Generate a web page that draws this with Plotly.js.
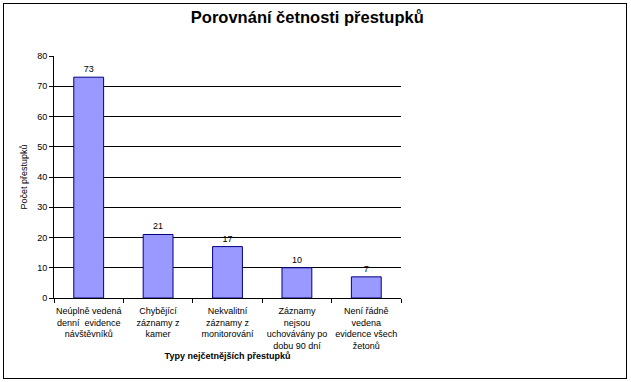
<!DOCTYPE html>
<html><head><meta charset="utf-8">
<script src="https://cdn.plot.ly/plotly-3.0.1.min.js"></script>
<style>
body{margin:0;padding:0;background:#fff;}
#wrap{position:relative;width:631px;height:382px;}
#chart{width:631px;height:382px;}
#frame{position:absolute;left:3px;top:3px;width:622px;height:374px;border:1px solid #000;pointer-events:none;}
</style></head>
<body>
<div id="wrap"><div id="chart"></div><div id="frame"></div></div>
<script>
const categories = [
  "Neúplně vedená<br>denní  evidence<br>návštěvníků",
  "Chybějící<br>záznamy z<br>kamer",
  "Nekvalitní<br>záznamy z<br>monitorování",
  "Záznamy<br>nejsou<br>uchovávány po<br>dobu 90 dní",
  "Není řádně<br>vedena<br>evidence všech<br>žetonů"
];
const values = [73, 21, 17, 10, 7];
const yTicks = [0, 10, 20, 30, 40, 50, 60, 70, 80];

const font = "Liberation Sans, Arial, sans-serif";
const trace = {
  type: "bar",
  x: categories,
  y: values,
  text: values.map(String),
  textposition: "outside",
  textfont: {family: font, size: 9, color: "#000"},
  cliponaxis: false,
  marker: {color: "#9999FF", line: {color: "#000080", width: 1}},
  width: 0.43,
  hoverinfo: "x+y"
};
const layout = {
  width: 631, height: 382,
  margin: {l: 54, r: 230, t: 56, b: 84},
  paper_bgcolor: "#fff", plot_bgcolor: "#fff",
  showlegend: false,
  title: {text: "<b>Porovnání četnosti přestupků</b>", font: {family: font, size: 16.5, color: "#000"},
          x: 0.487, xanchor: "center", y: 0.955, yanchor: "middle"},
  xaxis: {
    type: "category",
    showline: true, linecolor: "#000", linewidth: 1,
    ticks: "outside", tickson: "boundaries", ticklen: 4, tickcolor: "#000",
    tickfont: {family: font, size: 9, color: "#000"},
    ticklabelstandoff: 4,
    tickangle: 0,
    title: {text: "<b>Typy nejčetnějších přestupků</b>", font: {family: font, size: 9, color: "#000"}, standoff: 2},
    showgrid: false, zeroline: false
  },
  yaxis: {
    range: [0, 80],
    tickvals: yTicks,
    showline: true, linecolor: "#000", linewidth: 1,
    ticks: "outside", ticklen: 4, tickcolor: "#000",
    tickfont: {family: font, size: 9, color: "#000"},
    showgrid: true, gridcolor: "#000", gridwidth: 1,
    zeroline: false,
    title: {text: "Počet přestupků", font: {family: font, size: 9, color: "#000"}, standoff: 8}
  }
};
Plotly.newPlot("chart", [trace], layout, {displayModeBar: false, staticPlot: true});
</script>
</body></html>
